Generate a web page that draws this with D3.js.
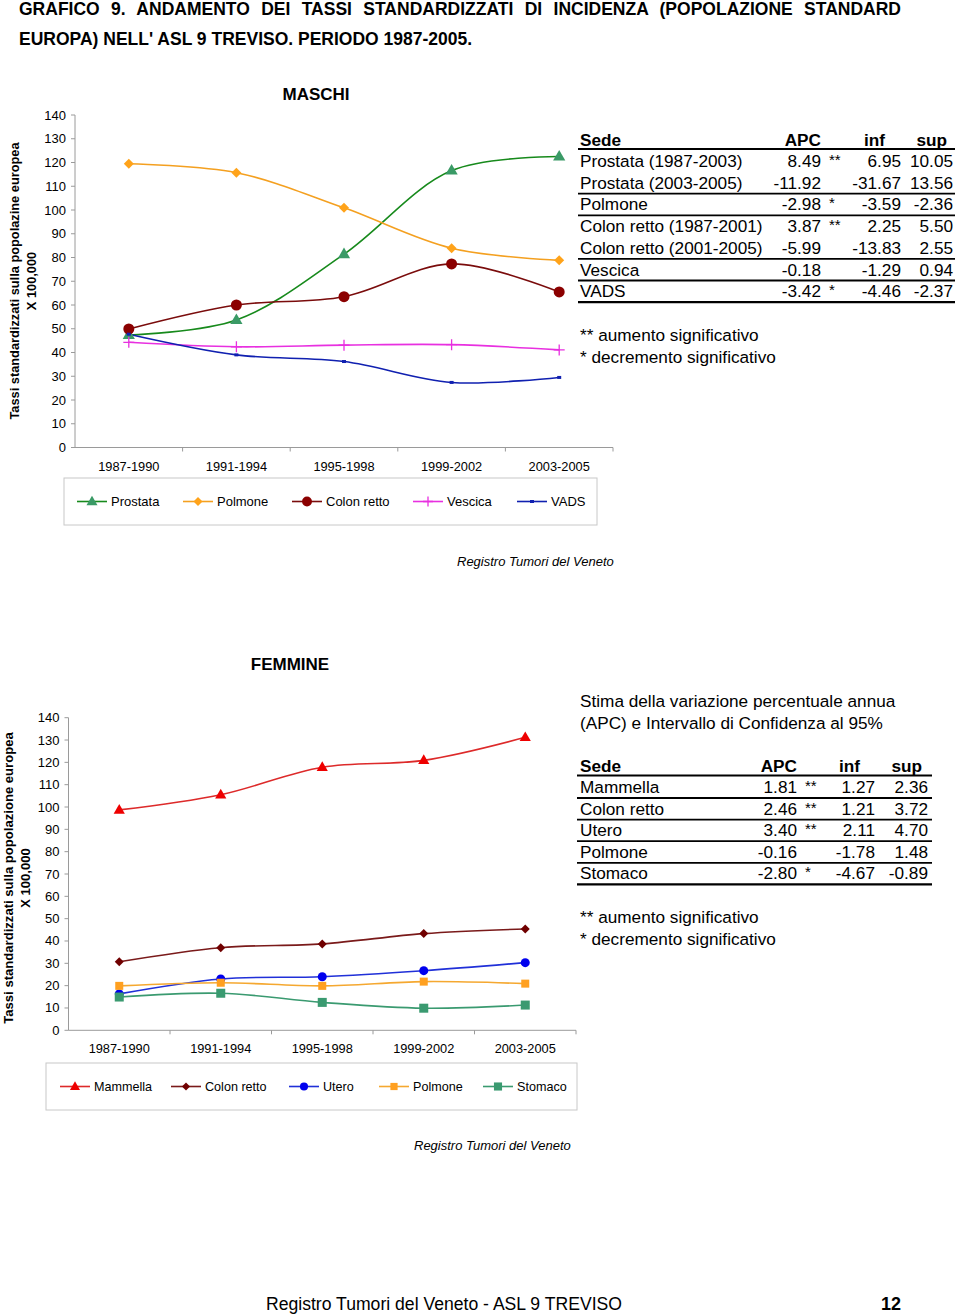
<!DOCTYPE html>
<html><head><meta charset="utf-8">
<script src="https://cdn.jsdelivr.net/npm/d3@7"></script>
<style>
body{margin:0;background:#fff;}
svg{display:block;font-family:"Liberation Sans",Arial,sans-serif;}
</style></head>
<body>
<svg id="c" width="960" height="1316"></svg>
<script>
// ---------- DATA ----------
const periods = ["1987-1990","1991-1994","1995-1998","1999-2002","2003-2005"];
const yTicks = [0,10,20,30,40,50,60,70,80,90,100,110,120,130,140];

// Maschi
const mProstata = [47.4, 53.7, 81.4, 116.6, 122.5];
const mPolmone  = [119.5, 115.7, 100.9, 83.9, 78.8];
const mColon    = [49.9, 60.0, 63.5, 77.3, 65.5];
const mVescica  = [44.3, 42.4, 43.1, 43.3, 41.1];
const mVADS     = [47.7, 39.0, 36.2, 27.4, 29.5];
const mNames = ["Prostata","Polmone","Colon retto","Vescica","VADS"];

// Femmine
const fMammella = [98.7, 105.5, 117.8, 120.9, 131.2];
const fColon    = [30.7, 37.0, 38.7, 43.3, 45.4];
const fUtero    = [16.3, 23.0, 24.0, 26.7, 30.3];
const fPolmone  = [19.9, 21.3, 19.9, 21.8, 20.9];
const fStomaco  = [14.9, 16.6, 12.5, 9.9, 11.3];
const fNames = ["Mammella","Colon retto","Utero","Polmone","Stomaco"];

// Tables
const mSede = ["Prostata (1987-2003)","Prostata (2003-2005)","Polmone","Colon retto (1987-2001)","Colon retto (2001-2005)","Vescica","VADS"];
const mAPC  = ["8.49","-11.92","-2.98","3.87","-5.99","-0.18","-3.42"];
const mSig  = ["**","","*","**","","","*"];
const mInf  = ["6.95","-31.67","-3.59","2.25","-13.83","-1.29","-4.46"];
const mSup  = ["10.05","13.56","-2.36","5.50","2.55","0.94","-2.37"];
const mRuleAfter = [false,true,true,false,true,true,true];

const fSede = ["Mammella","Colon retto","Utero","Polmone","Stomaco"];
const fAPC  = ["1.81","2.46","3.40","-0.16","-2.80"];
const fSig  = ["**","**","**","","*"];
const fInf  = ["1.27","1.21","2.11","-1.78","-4.67"];
const fSup  = ["2.36","3.72","4.70","1.48","-0.89"];
const fRuleAfter = [true,true,true,true,true];

// ---------- DRAW ----------
const svg = d3.select("#c");
const AX = "#9a9a9a";

function justify(sel, width){
  const w = sel.node().getComputedTextLength();
  const txt = sel.text();
  const spaces = (txt.match(/ /g)||[]).length;
  if (spaces>0) sel.attr("word-spacing", (width-w)/spaces);
}
const h1 = svg.append("text").attr("x",19).attr("y",15).attr("font-size",17.5).attr("font-weight","bold")
  .text("GRAFICO 9. ANDAMENTO DEI TASSI STANDARDIZZATI DI INCIDENZA (POPOLAZIONE STANDARD");
justify(h1, 882);
svg.append("text").attr("x",19).attr("y",45).attr("font-size",17.5).attr("font-weight","bold")
  .text("EUROPA) NELL' ASL 9 TREVISO. PERIODO 1987-2005.");

function marker(g, type, cx, cy, color, s){
  if(type==="tri"){
    g.append("path").attr("d",d3.symbol(d3.symbolTriangle, s*s*0.45)()).attr("transform",`translate(${cx},${cy+0.5})`).attr("fill",color);
  } else if(type==="dia"){
    g.append("path").attr("d",`M${cx},${cy-s/2}L${cx+s/2},${cy}L${cx},${cy+s/2}L${cx-s/2},${cy}Z`).attr("fill",color);
  } else if(type==="circ"){
    g.append("circle").attr("cx",cx).attr("cy",cy).attr("r",s/2).attr("fill",color);
  } else if(type==="sq"){
    g.append("rect").attr("x",cx-s/2).attr("y",cy-s/2).attr("width",s).attr("height",s).attr("fill",color);
  } else if(type==="plus"){
    g.append("path").attr("d",`M${cx-s/2},${cy}H${cx+s/2}M${cx},${cy-s/2}V${cy+s/2}`).attr("stroke",color).attr("stroke-width",1.3);
  } else if(type==="dash"){
    g.append("rect").attr("x",cx-2).attr("y",cy-1.5).attr("width",4).attr("height",3).attr("fill",color);
  }
}

function chart(cfg){
  const g = svg.append("g");
  const x = d3.scaleBand().domain(periods).range([cfg.x0, cfg.x1]).padding(0);
  const y = d3.scaleLinear().domain([0,140]).range([cfg.y0, cfg.y1]);
  // axes
  g.append("line").attr("x1",cfg.x0).attr("x2",cfg.x0).attr("y1",y(0)).attr("y2",y(140)).attr("stroke",AX);
  g.append("line").attr("x1",cfg.x0).attr("x2",cfg.x1).attr("y1",y(0)).attr("y2",y(0)).attr("stroke",AX);
  yTicks.forEach(t=>{
    g.append("line").attr("x1",cfg.x0-4).attr("x2",cfg.x0).attr("y1",y(t)).attr("y2",y(t)).attr("stroke",AX);
    g.append("text").attr("x",cfg.x0-cfg.lblGap).attr("y",y(t)+4.5).attr("text-anchor","end").attr("font-size",13).text(t);
  });
  periods.forEach((p,i)=>{
    const bx = x(p)+x.bandwidth();
    g.append("line").attr("x1",bx).attr("x2",bx).attr("y1",y(0)).attr("y2",y(0)+4).attr("stroke",AX);
    g.append("text").attr("x",x(p)+x.bandwidth()/2).attr("y",cfg.xLblY).attr("text-anchor","middle").attr("font-size",12.8).text(p);
  });
  // title
  g.append("text").attr("x",cfg.titleX).attr("y",cfg.titleY).attr("text-anchor","middle").attr("font-size",17).attr("font-weight","bold").text(cfg.title);
  // y title
  cfg.yTitle.forEach((t,i)=>{
    g.append("text").attr("transform",`translate(${cfg.yTitleX[i]},${cfg.yTitleCY}) rotate(-90)`)
      .attr("text-anchor","middle").attr("font-size",cfg.yTitleFS).attr("font-weight","bold").text(t);
  });
  // series
  const line = d3.line().x((d,i)=>x(periods[i])+x.bandwidth()/2).y(d=>y(d)).curve(d3.curveCatmullRom.alpha(0.5));
  cfg.series.forEach(s=>{
    g.append("path").attr("d",line(s.values)).attr("fill","none").attr("stroke",s.line).attr("stroke-width",1.6);
  });
  cfg.series.forEach(s=>{
    s.values.forEach((v,i)=>marker(g,s.mk,x(periods[i])+x.bandwidth()/2,y(v),s.mc,s.ms));
  });
  // legend
  const L = cfg.legend;
  g.append("rect").attr("x",L.x).attr("y",L.y).attr("width",L.w).attr("height",L.h).attr("fill","none").attr("stroke","#c8c8c8");
  cfg.series.forEach((s,i)=>{
    const mx = L.items[i], cy = L.y+L.h/2;
    g.append("line").attr("x1",mx-15).attr("x2",mx+15).attr("y1",cy).attr("y2",cy).attr("stroke",s.line).attr("stroke-width",1.6);
    marker(g,s.mk,mx,cy,s.mc,s.ms*0.9);
    g.append("text").attr("x",mx+19).attr("y",cy+4.5).attr("font-size",cfg.legFS).text(s.name);
  });
  g.append("text").attr("x",cfg.srcX).attr("y",cfg.srcY).attr("font-size",13).attr("font-style","italic").text("Registro Tumori del Veneto");
}

chart({
  x0:75, x1:613, y0:447.5, y1:115, lblGap:9, xLblY:471, title:"MASCHI", titleX:316, titleY:100, legFS:13,
  yTitle:["Tassi standardizzati sulla popolazine europea","X 100,000"], yTitleX:[18.5,35.5], yTitleCY:281, yTitleFS:12.8,
  series:[
    {name:mNames[0], values:mProstata, line:"#178a1c", mc:"#3a9a66", mk:"tri", ms:12},
    {name:mNames[1], values:mPolmone, line:"#f4a020", mc:"#ffa31a", mk:"dia", ms:10},
    {name:mNames[2], values:mColon, line:"#7a0c0c", mc:"#8b0000", mk:"circ", ms:11},
    {name:mNames[3], values:mVescica, line:"#e830e0", mc:"#e830e0", mk:"plus", ms:11},
    {name:mNames[4], values:mVADS, line:"#1020b0", mc:"#1020b0", mk:"dash", ms:4}
  ],
  legend:{x:64, y:478, w:533, h:47, items:[92,198,307,428,532]},
  srcX:457, srcY:566
});

chart({
  x0:68.5, x1:576, y0:1030.3, y1:717.7, lblGap:9, xLblY:1053, title:"FEMMINE", titleX:290, titleY:670, legFS:12.6,
  yTitle:["Tassi standardizzati sulla popolazione europea","X 100,000"], yTitleX:[12.5,29.5], yTitleCY:878, yTitleFS:13.1,
  series:[
    {name:fNames[0], values:fMammella, line:"#dd2a2a", mc:"#ee0000", mk:"tri", ms:11},
    {name:fNames[1], values:fColon, line:"#7a1a1a", mc:"#700000", mk:"dia", ms:9},
    {name:fNames[2], values:fUtero, line:"#2030d8", mc:"#0000ee", mk:"circ", ms:9},
    {name:fNames[3], values:fPolmone, line:"#f5a830", mc:"#ffa020", mk:"sq", ms:8},
    {name:fNames[4], values:fStomaco, line:"#3a9a70", mc:"#3a9a70", mk:"sq", ms:9}
  ],
  legend:{x:46, y:1063, w:531, h:47, items:[75,186,304,394,498]},
  srcX:414, srcY:1150
});

// ---------- TABLES ----------
function table(t){
  const g = svg.append("g").attr("font-size",17.2);
  g.append("text").attr("x",t.x).attr("y",t.headY).attr("font-weight","bold").text("Sede");
  g.append("text").attr("x",t.cAPC).attr("y",t.headY).attr("font-weight","bold").attr("text-anchor","end").text("APC");
  g.append("text").attr("x",t.hInf).attr("y",t.headY).attr("font-weight","bold").attr("text-anchor","end").text("inf");
  g.append("text").attr("x",t.hSup).attr("y",t.headY).attr("font-weight","bold").attr("text-anchor","end").text("sup");
  g.append("line").attr("x1",t.lx0).attr("x2",t.lx1).attr("y1",t.headLine).attr("y2",t.headLine).attr("stroke","#000").attr("stroke-width",2.2);
  t.sede.forEach((s,i)=>{
    const yy = t.row0 + i*t.rh;
    g.append("text").attr("x",t.x).attr("y",yy).text(s);
    g.append("text").attr("x",t.cAPC).attr("y",yy).attr("text-anchor","end").text(t.apc[i]);
    g.append("text").attr("x",t.cSig).attr("y",yy-2).attr("font-size",15).text(t.sig[i]);
    g.append("text").attr("x",t.cInf).attr("y",yy).attr("text-anchor","end").text(t.inf[i]);
    g.append("text").attr("x",t.cSup).attr("y",yy).attr("text-anchor","end").text(t.sup[i]);
    if(t.rule[i]){
      const ly = yy + t.ruleOff;
      const last = i===t.sede.length-1;
      g.append("line").attr("x1",t.lx0).attr("x2",t.lx1).attr("y1",ly).attr("y2",ly).attr("stroke","#000").attr("stroke-width",last?2.2:1.8);
    }
  });
  g.append("text").attr("x",t.x).attr("y",t.note1).text("** aumento significativo");
  g.append("text").attr("x",t.x).attr("y",t.note1+21.5).text("* decremento significativo");
}

table({x:580, headY:146, row0:167, rh:21.7, ruleOff:5, lx0:578, lx1:955, headLine:149,
  cAPC:821, cSig:829, cInf:901, cSup:953, hInf:885, hSup:947,
  sede:mSede, apc:mAPC, sig:mSig, inf:mInf, sup:mSup, rule:mRuleAfter, note1:341});

svg.append("text").attr("x",580).attr("y",707).attr("font-size",17.2).text("Stima della variazione percentuale annua");
svg.append("text").attr("x",580).attr("y",729).attr("font-size",17.2).text("(APC) e Intervallo di Confidenza al 95%");

table({x:580, headY:772, row0:793, rh:21.6, ruleOff:5, lx0:577, lx1:932, headLine:775.5,
  cAPC:797, cSig:805, cInf:875, cSup:928, hInf:860, hSup:922,
  sede:fSede, apc:fAPC, sig:fSig, inf:fInf, sup:fSup, rule:fRuleAfter, note1:923});

// ---------- FOOTER ----------
svg.append("text").attr("x",266).attr("y",1310).attr("font-size",17.6).text("Registro Tumori del Veneto - ASL 9 TREVISO");
svg.append("text").attr("x",881).attr("y",1310).attr("font-size",18).attr("font-weight","bold").text("12");
</script>
</body></html>
